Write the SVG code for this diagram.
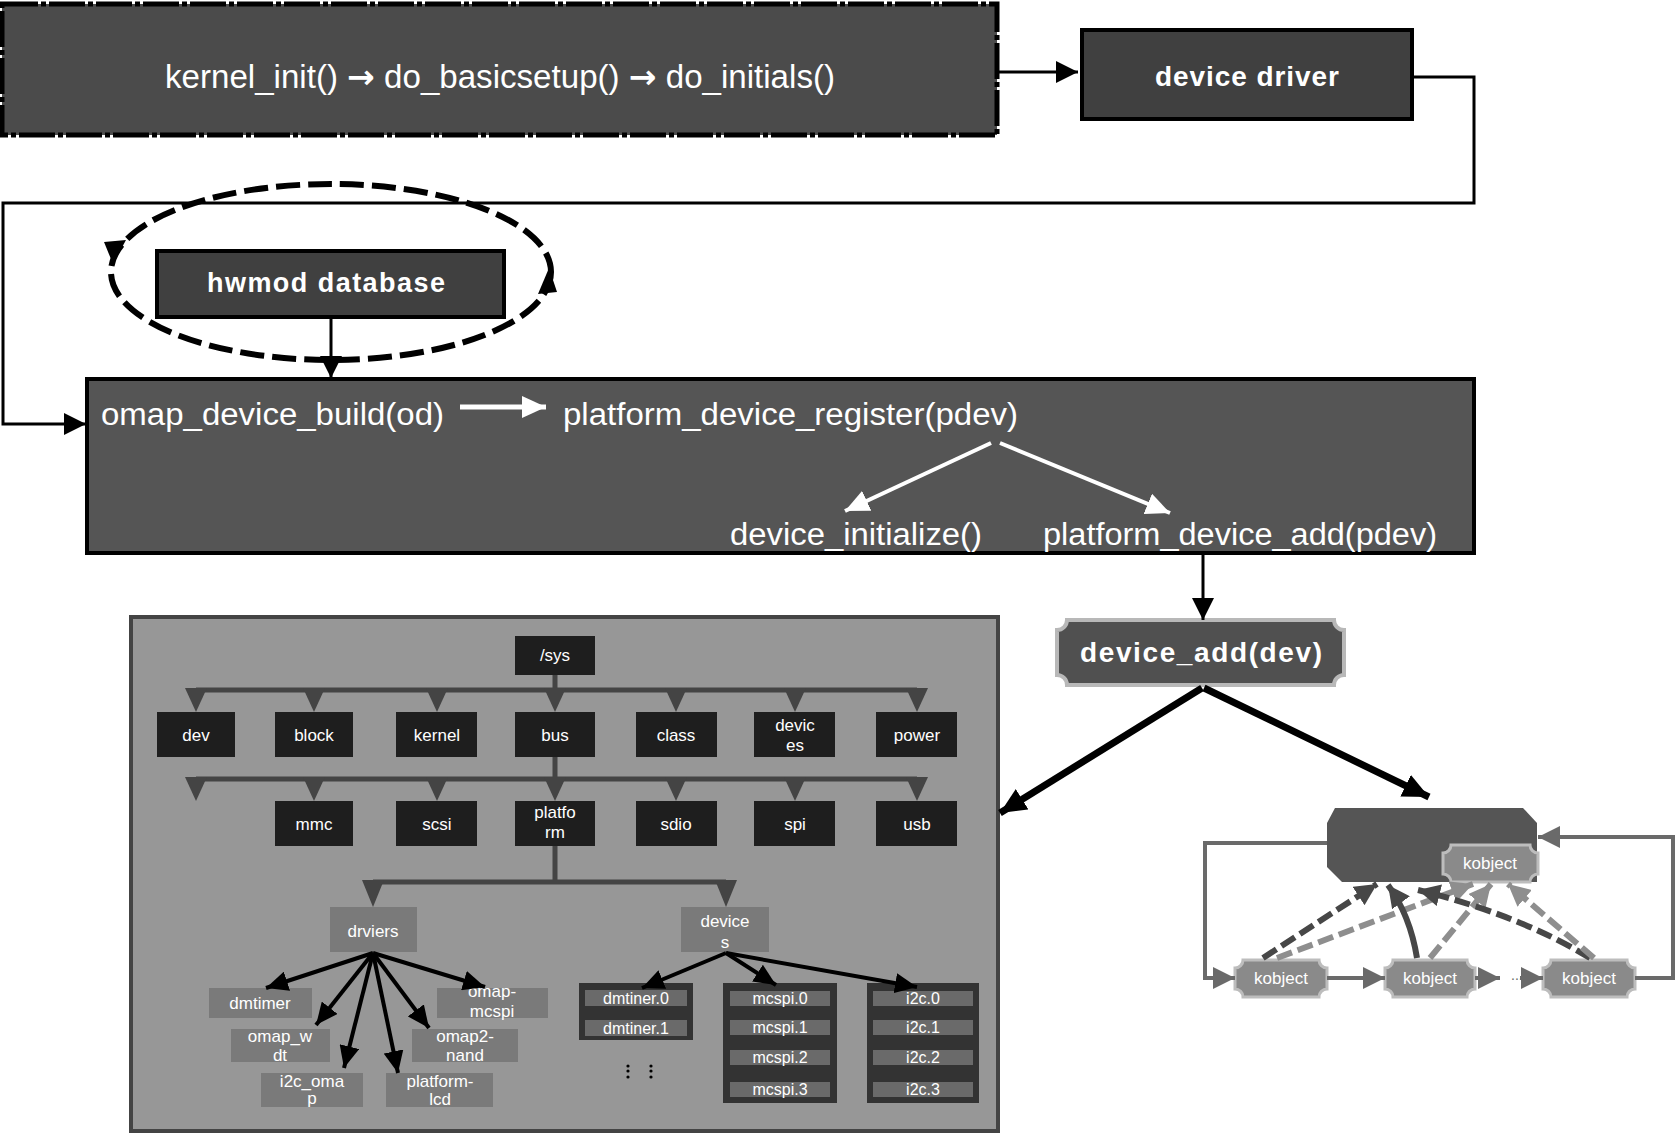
<svg xmlns="http://www.w3.org/2000/svg" width="1675" height="1135" viewBox="0 0 1675 1135">
<defs>
<style>
.t{font-family:"Liberation Sans","DejaVu Sans",Arial,sans-serif;fill:#fff}
.big{font-size:31px}
.bold{font-weight:bold}
.sm{font-size:17px;text-anchor:middle}
.xs{font-size:16px;text-anchor:middle}
.blk{stroke:#000;stroke-width:3;fill:none}
.tree{stroke:#444;stroke-width:5;fill:none}
.tri{fill:#444}
.tb{fill:#1e1e1e}
.db{fill:#7a7a7a}
.dg{fill:#333}
.bar{fill:#6a6a6a}
.dr{stroke:#000;stroke-width:4;fill:none}
.kl{stroke:#6a6a6a;stroke-width:4;fill:none}
.kd{stroke:#474747;stroke-width:6;fill:none;stroke-dasharray:16 6}
.kg{stroke:#8e8e8e;stroke-width:6;fill:none;stroke-dasharray:16 6}
.ko{fill:#8a8a8a;stroke:#bdbdbd;stroke-width:3}
</style>
<marker id="aB" markerUnits="userSpaceOnUse" markerWidth="24" markerHeight="22" refX="22" refY="11" orient="auto"><path d="M0,0 L22,11 L0,22 Z" fill="#000"/></marker>
<marker id="aB2" markerUnits="userSpaceOnUse" markerWidth="24" markerHeight="20" refX="22" refY="10" orient="auto"><path d="M0,0 L22,10 L0,20 Z" fill="#000"/></marker>
<marker id="aBig" markerUnits="userSpaceOnUse" markerWidth="28" markerHeight="24" refX="26" refY="12" orient="auto"><path d="M0,0 L26,12 L0,24 Z" fill="#000"/></marker>
<marker id="aW" markerUnits="userSpaceOnUse" markerWidth="26" markerHeight="22" refX="24" refY="11" orient="auto"><path d="M0,0 L24,11 L0,22 Z" fill="#fff"/></marker>
<marker id="aK" markerUnits="userSpaceOnUse" markerWidth="24" markerHeight="22" refX="22" refY="11" orient="auto"><path d="M0,0 L22,11 L0,22 Z" fill="#6a6a6a"/></marker>
<marker id="aD" markerUnits="userSpaceOnUse" markerWidth="24" markerHeight="22" refX="22" refY="11" orient="auto"><path d="M0,0 L22,11 L0,22 Z" fill="#474747"/></marker>
<marker id="aG" markerUnits="userSpaceOnUse" markerWidth="24" markerHeight="22" refX="22" refY="11" orient="auto"><path d="M0,0 L22,11 L0,22 Z" fill="#8e8e8e"/></marker>
</defs>
<rect width="1675" height="1135" fill="#fff"/>

<g id="kernel-init">
<rect x="2" y="4" width="995" height="131" fill="#4b4b4b" stroke="#000" stroke-width="5" stroke-dasharray="36 3 5 3"/>
<text class="t" font-size="33" x="500" y="88" text-anchor="middle" textLength="670" lengthAdjust="spacingAndGlyphs">kernel_init() <tspan font-family="DejaVu Sans, sans-serif" font-weight="bold">→</tspan> do_basicsetup() <tspan font-family="DejaVu Sans, sans-serif" font-weight="bold">→</tspan> do_initials()</text>
</g>

<g id="device-driver">
<rect x="1082" y="30" width="330" height="89" fill="#404040" stroke="#000" stroke-width="4"/>
<text class="t bold" x="1247" y="86" font-size="28" text-anchor="middle" textLength="184">device driver</text>
</g>

<g id="hwmod-database">
<ellipse cx="331" cy="272" rx="220" ry="88" fill="none" stroke="#000" stroke-width="6" stroke-dasharray="24 8"/>
<polygon points="104,242 126,240 113,264" fill="#000"/>
<polygon points="538,294 557,292 549,268" fill="#000"/>
<rect x="157" y="251" width="347" height="66" fill="#404040" stroke="#000" stroke-width="4"/>
<text class="t bold" x="326" y="292" font-size="27" text-anchor="middle" textLength="238">hwmod database</text>
</g>

<g id="omap-device-build">
<rect x="87" y="379" width="1387" height="174" fill="#555" stroke="#000" stroke-width="4"/>
<text class="t big" x="101" y="425" textLength="343" lengthAdjust="spacingAndGlyphs">omap_device_build(od)</text>
<text class="t big" x="563" y="425" textLength="455" lengthAdjust="spacingAndGlyphs">platform_device_register(pdev)</text>
<text class="t big" x="730" y="545" textLength="252" lengthAdjust="spacingAndGlyphs">device_initialize()</text>
<text class="t big" x="1043" y="545" textLength="394" lengthAdjust="spacingAndGlyphs">platform_device_add(pdev)</text>
<line x1="460" y1="407" x2="546" y2="407" stroke="#fff" stroke-width="5" marker-end="url(#aW)"/>
<line x1="991" y1="443" x2="845" y2="511" stroke="#fff" stroke-width="4" marker-end="url(#aW)"/>
<line x1="1000" y1="443" x2="1170" y2="513" stroke="#fff" stroke-width="4" marker-end="url(#aW)"/>
</g>

<g id="device-add">
<path d="M1067,620 H1334 A10,10 0 0 0 1344,630 V675 A10,10 0 0 0 1334,685 H1067 A10,10 0 0 0 1057,675 V630 A10,10 0 0 0 1067,620 Z" fill="#505050" stroke="#b8b8b8" stroke-width="4"/>
<text class="t bold" x="1201" y="662" font-size="28" text-anchor="middle" textLength="242">device_add(dev)</text>
</g>

<g id="sysfs-panel">
<rect x="131" y="617" width="867" height="514" fill="#979797" stroke="#444" stroke-width="4"/>
<g id="sys-tree-lines">
<path class="tree" d="M555,675 V690 M196,690 H917 M555,757 V779 M196,779 H917 M555,846 V882 M373,882 H726"/>
<polygon class="tri" points="185,688 207,688 196,712"/>
<polygon class="tri" points="303,688 325,688 314,712"/>
<polygon class="tri" points="426,688 448,688 437,712"/>
<polygon class="tri" points="544,688 566,688 555,712"/>
<polygon class="tri" points="665,688 687,688 676,712"/>
<polygon class="tri" points="784,688 806,688 795,712"/>
<polygon class="tri" points="906,688 928,688 917,712"/>
<polygon class="tri" points="185,777 207,777 196,801"/>
<polygon class="tri" points="303,777 325,777 314,801"/>
<polygon class="tri" points="426,777 448,777 437,801"/>
<polygon class="tri" points="544,777 566,777 555,801"/>
<polygon class="tri" points="665,777 687,777 676,801"/>
<polygon class="tri" points="784,777 806,777 795,801"/>
<polygon class="tri" points="906,777 928,777 917,801"/>
<polygon class="tri" points="362,880 384,880 373,907"/>
<polygon class="tri" points="715,880 737,880 726,907"/>
</g>
<g id="n-sys"><rect class="tb" x="515" y="636" width="80" height="39"/><text class="t sm" x="555" y="661">/sys</text></g>
<g id="n-dev"><rect class="tb" x="157" y="712" width="78" height="45"/><text class="t sm" x="196" y="741">dev</text></g>
<g id="n-block"><rect class="tb" x="275" y="712" width="78" height="45"/><text class="t sm" x="314" y="741">block</text></g>
<g id="n-kernel"><rect class="tb" x="396" y="712" width="81" height="45"/><text class="t sm" x="437" y="741">kernel</text></g>
<g id="n-bus"><rect class="tb" x="515" y="712" width="80" height="45"/><text class="t sm" x="555" y="741">bus</text></g>
<g id="n-class"><rect class="tb" x="636" y="712" width="81" height="45"/><text class="t sm" x="676" y="741">class</text></g>
<g id="n-devices"><rect class="tb" x="754" y="712" width="81" height="45"/><text class="t sm" x="795" y="731">devic</text><text class="t sm" x="795" y="751">es</text></g>
<g id="n-power"><rect class="tb" x="876" y="712" width="81" height="45"/><text class="t sm" x="917" y="741">power</text></g>
<g id="n-mmc"><rect class="tb" x="275" y="801" width="78" height="45"/><text class="t sm" x="314" y="830">mmc</text></g>
<g id="n-scsi"><rect class="tb" x="396" y="801" width="81" height="45"/><text class="t sm" x="437" y="830">scsi</text></g>
<g id="n-platform"><rect class="tb" x="515" y="801" width="80" height="45"/><text class="t sm" x="555" y="818">platfo</text><text class="t sm" x="555" y="838">rm</text></g>
<g id="n-sdio"><rect class="tb" x="636" y="801" width="81" height="45"/><text class="t sm" x="676" y="830">sdio</text></g>
<g id="n-spi"><rect class="tb" x="754" y="801" width="81" height="45"/><text class="t sm" x="795" y="830">spi</text></g>
<g id="n-usb"><rect class="tb" x="876" y="801" width="81" height="45"/><text class="t sm" x="917" y="830">usb</text></g>

<g id="n-drviers"><rect class="db" x="330" y="907" width="87" height="45"/><text class="t sm" x="373" y="937">drviers</text></g>
<g id="n-devices2"><rect class="db" x="681" y="907" width="88" height="45"/><text class="t sm" x="725" y="927">device</text><text class="t sm" x="725" y="948">s</text></g>

<g id="n-dmtimer"><rect class="db" x="209" y="988" width="103" height="30"/><text class="t sm" x="260" y="1009">dmtimer</text></g>
<g id="n-omap-mcspi"><rect class="db" x="437" y="988" width="111" height="30"/><text class="t sm" x="492" y="997">omap-</text><text class="t sm" x="492" y="1017">mcspi</text></g>
<g id="n-omap-wdt"><rect class="db" x="231" y="1029" width="99" height="33"/><text class="t sm" x="280" y="1042">omap_w</text><text class="t sm" x="280" y="1061">dt</text></g>
<g id="n-omap2-nand"><rect class="db" x="412" y="1029" width="106" height="33"/><text class="t sm" x="465" y="1042">omap2-</text><text class="t sm" x="465" y="1061">nand</text></g>
<g id="n-i2c-omap"><rect class="db" x="261" y="1073" width="102" height="34"/><text class="t sm" x="312" y="1087">i2c_oma</text><text class="t sm" x="312" y="1104">p</text></g>
<g id="n-platform-lcd"><rect class="db" x="386" y="1073" width="107" height="34"/><text class="t sm" x="440" y="1087">platform-</text><text class="t sm" x="440" y="1105">lcd</text></g>

<g id="n-dmtimer-devs">
<rect class="dg" x="579" y="983" width="114" height="57"/>
<rect class="bar" x="585" y="990" width="102" height="16"/>
<rect class="bar" x="585" y="1020" width="102" height="16"/>
<text class="t xs" x="636" y="1004">dmtiner.0</text>
<text class="t xs" x="636" y="1034">dmtiner.1</text>
<circle cx="628" cy="1066" r="1.6" fill="#000"/><circle cx="628" cy="1071" r="1.6" fill="#000"/><circle cx="628" cy="1077" r="1.6" fill="#000"/>
<circle cx="651" cy="1066" r="1.6" fill="#000"/><circle cx="651" cy="1071" r="1.6" fill="#000"/><circle cx="651" cy="1077" r="1.6" fill="#000"/>
</g>
<g id="n-mcspi-devs">
<rect class="dg" x="723" y="983" width="114" height="120"/>
<rect class="bar" x="730" y="991" width="100" height="15"/>
<rect class="bar" x="730" y="1020" width="100" height="15"/>
<rect class="bar" x="730" y="1050" width="100" height="15"/>
<rect class="bar" x="730" y="1082" width="100" height="15"/>
<text class="t xs" x="780" y="1004">mcspi.0</text>
<text class="t xs" x="780" y="1033">mcspi.1</text>
<text class="t xs" x="780" y="1063">mcspi.2</text>
<text class="t xs" x="780" y="1095">mcspi.3</text>
</g>
<g id="n-i2c-devs">
<rect class="dg" x="867" y="983" width="112" height="120"/>
<rect class="bar" x="873" y="991" width="100" height="15"/>
<rect class="bar" x="873" y="1020" width="100" height="15"/>
<rect class="bar" x="873" y="1050" width="100" height="15"/>
<rect class="bar" x="873" y="1082" width="100" height="15"/>
<text class="t xs" x="923" y="1004">i2c.0</text>
<text class="t xs" x="923" y="1033">i2c.1</text>
<text class="t xs" x="923" y="1063">i2c.2</text>
<text class="t xs" x="923" y="1095">i2c.3</text>
</g>
<g id="panel-arrows">
<line class="dr" x1="373" y1="953" x2="266" y2="988" marker-end="url(#aB2)"/>
<line class="dr" x1="373" y1="953" x2="316" y2="1025" marker-end="url(#aB2)"/>
<line class="dr" x1="373" y1="953" x2="344" y2="1068" marker-end="url(#aB2)"/>
<line class="dr" x1="373" y1="953" x2="398" y2="1073" marker-end="url(#aB2)"/>
<line class="dr" x1="373" y1="953" x2="429" y2="1028" marker-end="url(#aB2)"/>
<line class="dr" x1="373" y1="953" x2="485" y2="987" marker-end="url(#aB2)"/>
<line class="dr" x1="726" y1="953" x2="642" y2="988" marker-end="url(#aB2)"/>
<line class="dr" x1="726" y1="953" x2="776" y2="985" marker-end="url(#aB2)"/>
<line class="dr" x1="726" y1="953" x2="917" y2="987" marker-end="url(#aB2)"/>
</g>
</g>

<g id="kobject-hierarchy">
<path d="M1335,808 H1523 L1537,823 V882 H1342 L1327,867 V823 Z" fill="#555"/>
<g id="kobject-parent">
<path class="ko" d="M1451,845 H1530 A8,8 0 0 0 1538,853 V874 A8,8 0 0 0 1530,882 H1451 A8,8 0 0 0 1443,874 V853 A8,8 0 0 0 1451,845 Z"/>
<text class="t sm" x="1490" y="869">kobject</text>
</g>
<g id="kobject-1">
<path class="ko" d="M1243,960 H1319 A8,8 0 0 0 1327,968 V989 A8,8 0 0 0 1319,997 H1243 A8,8 0 0 0 1235,989 V968 A8,8 0 0 0 1243,960 Z"/>
<text class="t sm" x="1281" y="984">kobject</text>
</g>
<g id="kobject-2">
<path class="ko" d="M1393,960 H1467 A8,8 0 0 0 1475,968 V989 A8,8 0 0 0 1467,997 H1393 A8,8 0 0 0 1385,989 V968 A8,8 0 0 0 1393,960 Z"/>
<text class="t sm" x="1430" y="984">kobject</text>
</g>
<g id="kobject-3">
<path class="ko" d="M1551,960 H1627 A8,8 0 0 0 1635,968 V989 A8,8 0 0 0 1627,997 H1551 A8,8 0 0 0 1543,989 V968 A8,8 0 0 0 1551,960 Z"/>
<text class="t sm" x="1589" y="984">kobject</text>
</g>
<text class="t" x="1511" y="980" font-size="14" style="fill:#666">...</text>
</g>

<g id="connectors">
<line class="blk" x1="999" y1="72" x2="1078" y2="72" marker-end="url(#aB)"/>
<polyline class="blk" points="1412,77 1474,77 1474,203 3,203 3,424 86,424" marker-end="url(#aB)"/>
<line class="blk" x1="331" y1="317" x2="331" y2="378" marker-end="url(#aB)"/>
<line class="blk" x1="1203" y1="553" x2="1203" y2="620" marker-end="url(#aB)"/>
<line x1="1202" y1="688" x2="1000" y2="813" stroke="#000" stroke-width="7" marker-end="url(#aBig)"/>
<line x1="1204" y1="688" x2="1429" y2="797" stroke="#000" stroke-width="7" marker-end="url(#aBig)"/>
<polyline class="kl" points="1327,843 1205,843 1205,978 1235,978" marker-end="url(#aK)"/>
<line class="kl" x1="1327" y1="978" x2="1385" y2="978" marker-end="url(#aK)"/>
<line class="kl" x1="1475" y1="978" x2="1500" y2="978" marker-end="url(#aK)"/>
<line class="kl" x1="1520" y1="978" x2="1543" y2="978" marker-end="url(#aK)"/>
<polyline class="kl" points="1635,978 1673,978 1673,837 1538,837" marker-end="url(#aK)"/>
<line class="kd" x1="1263" y1="958" x2="1377" y2="884" marker-end="url(#aD)"/>
<line class="kg" x1="1277" y1="958" x2="1473" y2="884" marker-end="url(#aG)"/>
<path class="kd" d="M1417,958 Q1410,915 1388,885" marker-end="url(#aD)" style="stroke-dasharray:none"/>
<line class="kg" x1="1430" y1="958" x2="1491" y2="884" marker-end="url(#aG)"/>
<path class="kd" d="M1590,958 Q1520,915 1418,890" marker-end="url(#aD)"/>
<line class="kg" x1="1594" y1="958" x2="1508" y2="884" marker-end="url(#aG)"/>
</g>
</svg>
